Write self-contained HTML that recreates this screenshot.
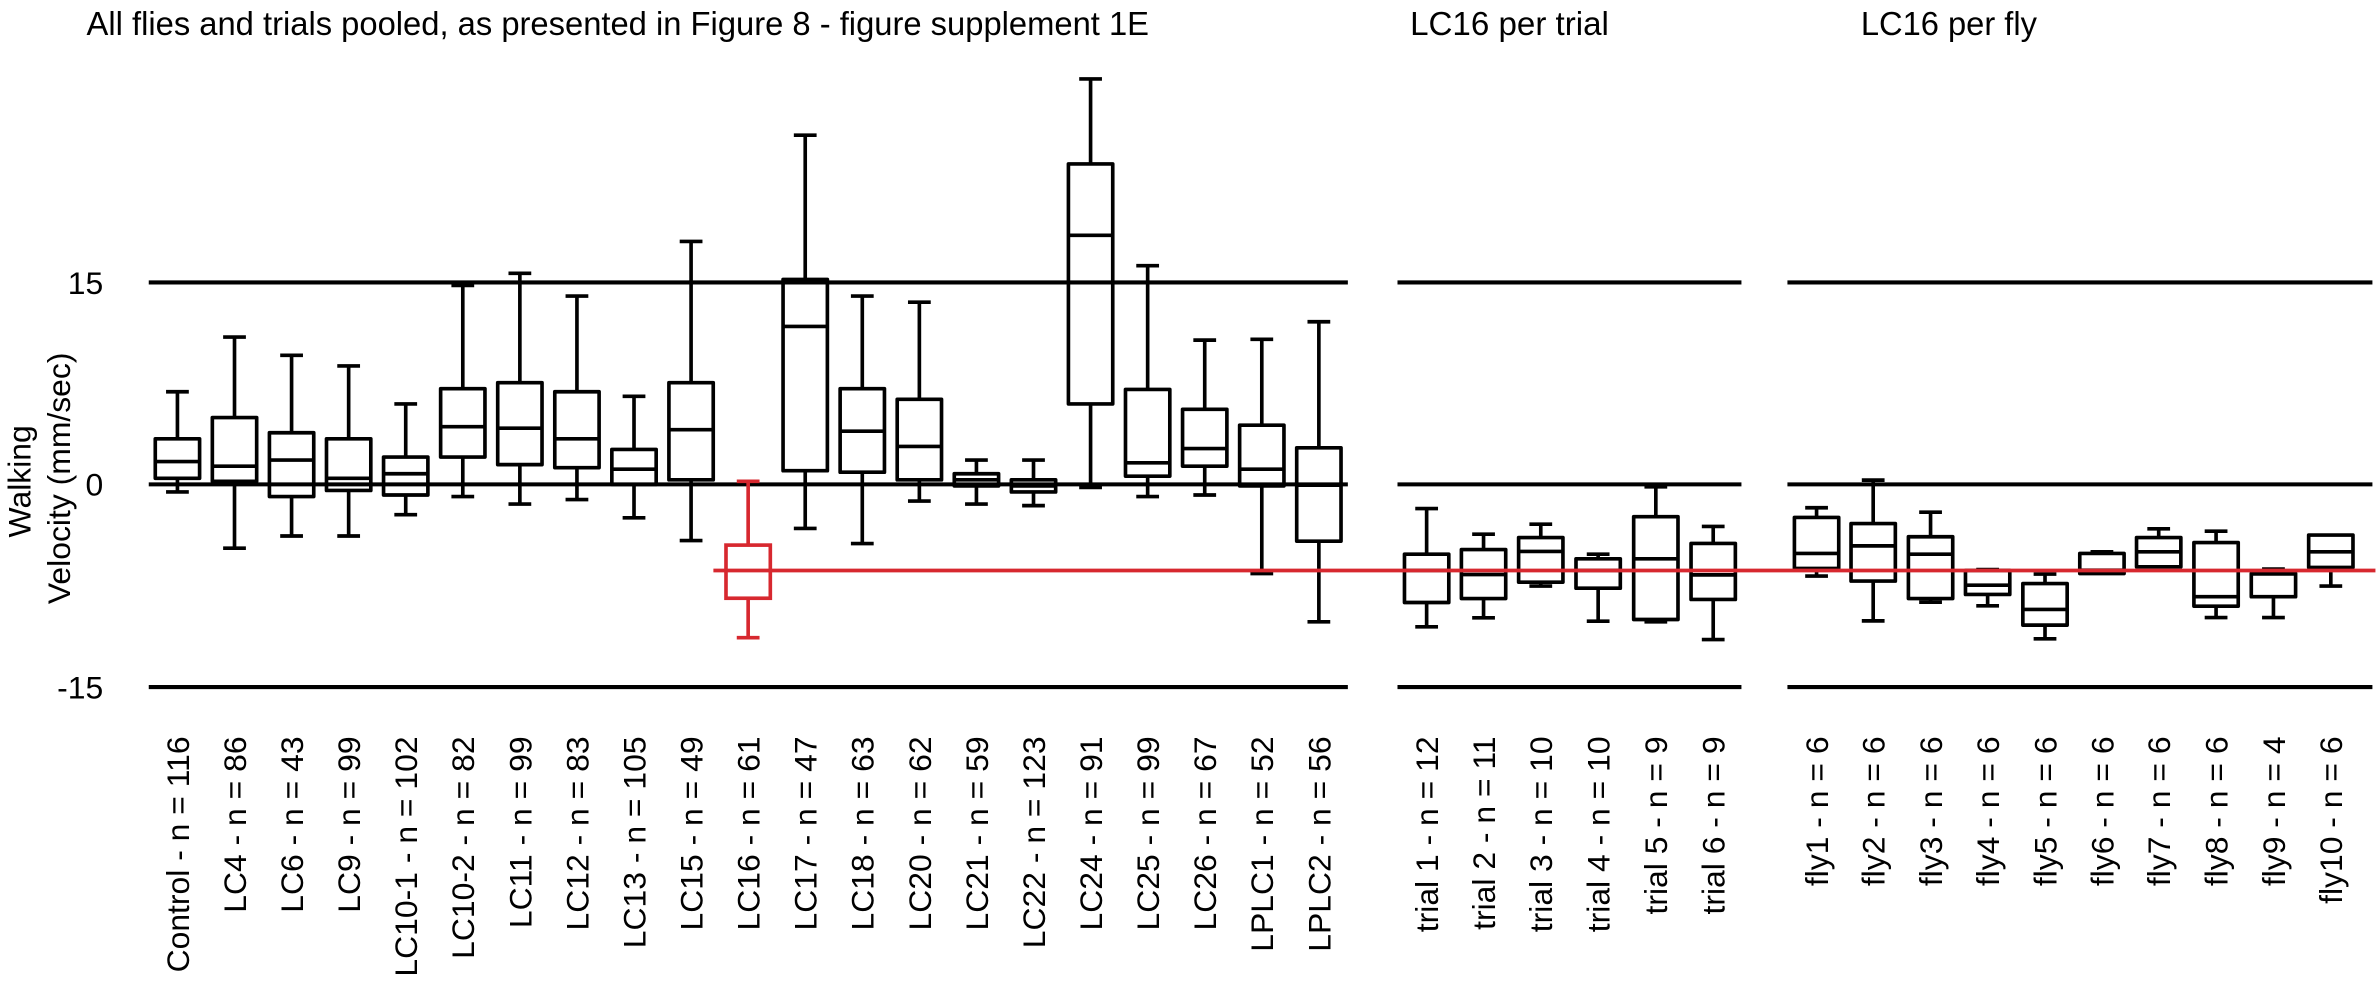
<!DOCTYPE html>
<html><head><meta charset="utf-8"><style>
html,body{margin:0;padding:0;background:#fff;}
svg{display:block;}
text{font-family:"Liberation Sans",Arial,sans-serif;fill:#000;}
</style></head><body>
<svg width="2380" height="990" viewBox="0 0 1568 652" preserveAspectRatio="none" xmlns="http://www.w3.org/2000/svg">
<rect width="1568" height="652" fill="#fff"/>
<text x="57" y="23" font-size="22" textLength="700" lengthAdjust="spacingAndGlyphs">All flies and trials pooled, as presented in Figure 8 - figure supplement 1E</text>
<text x="929" y="23" font-size="22" textLength="131" lengthAdjust="spacingAndGlyphs">LC16 per trial</text>
<text x="1226" y="23" font-size="22" textLength="116" lengthAdjust="spacingAndGlyphs">LC16 per fly</text>

<g font-size="21" text-anchor="end">
<text x="68" y="193.5">15</text>
<text x="68" y="326.5">0</text>
<text x="68" y="460">-15</text>
</g>
<g font-size="21" text-anchor="middle">
<text transform="translate(20,317) rotate(-90)">Walking</text>
<text transform="translate(46,315) rotate(-90)">Velocity (mm/sec)</text>
</g>

<g stroke="#000" stroke-width="2.7" fill="none">
<path d="M98 186H888M98 319H888M98 452.5H888"/>
<path d="M920.7 186H1147.3M920.7 319H1147.3M920.7 452.5H1147.3"/>
<path d="M1177.6 186H1563M1177.6 319H1563M1177.6 452.5H1563"/>
</g>

<g stroke="#000" stroke-width="2.4" fill="none" stroke-linejoin="round">
<path d="M109.4 258H124.4M116.9 258V289M116.9 315V324M109.4 324H124.4M102.3 304H131.5"/><rect x="102.3" y="289" width="29.2" height="26"/>
<path d="M147 222H162M154.5 222V275M154.5 317V361M147 361H162M139.9 307H169.1"/><rect x="139.9" y="275" width="29.2" height="42"/>
<path d="M184.6 234H199.6M192.1 234V285M192.1 327V353M184.6 353H199.6M177.5 303H206.7"/><rect x="177.5" y="285" width="29.2" height="42"/>
<path d="M222.2 241H237.2M229.7 241V289M229.7 323V353M222.2 353H237.2M215.1 315H244.3"/><rect x="215.1" y="289" width="29.2" height="34"/>
<path d="M259.8 266H274.8M267.3 266V301M267.3 326V339M259.8 339H274.8M252.7 312H281.9"/><rect x="252.7" y="301" width="29.2" height="25"/>
<path d="M297.4 188H312.4M304.9 188V256M304.9 301V327M297.4 327H312.4M290.3 281H319.5"/><rect x="290.3" y="256" width="29.2" height="45"/>
<path d="M335 180H350M342.5 180V252M342.5 306V332M335 332H350M327.9 282H357.1"/><rect x="327.9" y="252" width="29.2" height="54"/>
<path d="M372.6 195H387.6M380.1 195V258M380.1 308V329M372.6 329H387.6M365.5 289H394.7"/><rect x="365.5" y="258" width="29.2" height="50"/>
<path d="M410.2 261H425.2M417.7 261V296M417.7 319V341M410.2 341H425.2M403.1 309H432.3"/><rect x="403.1" y="296" width="29.2" height="23"/>
<path d="M447.8 159H462.8M455.3 159V252M455.3 316V356M447.8 356H462.8M440.7 283H469.9"/><rect x="440.7" y="252" width="29.2" height="64"/>
<path d="M523 89H538M530.5 89V184M530.5 310V348M523 348H538M515.9 215H545.1"/><rect x="515.9" y="184" width="29.2" height="126"/>
<path d="M560.6 195H575.6M568.1 195V256M568.1 311V358M560.6 358H575.6M553.5 284H582.7"/><rect x="553.5" y="256" width="29.2" height="55"/>
<path d="M598.2 199H613.2M605.7 199V263M605.7 316V330M598.2 330H613.2M591.1 294H620.3"/><rect x="591.1" y="263" width="29.2" height="53"/>
<path d="M635.8 303H650.8M643.3 303V312M643.3 320V332M635.8 332H650.8M628.7 316H657.9"/><rect x="628.7" y="312" width="29.2" height="8"/>
<path d="M673.4 303H688.4M680.9 303V316M680.9 324V333M673.4 333H688.4M666.3 320H695.5"/><rect x="666.3" y="316" width="29.2" height="8"/>
<path d="M711 52H726M718.5 52V108M718.5 266V321M711 321H726M703.9 155H733.1"/><rect x="703.9" y="108" width="29.2" height="158"/>
<path d="M748.6 175H763.6M756.1 175V256.5M756.1 313.6V327M748.6 327H763.6M741.5 304.8H770.7"/><rect x="741.5" y="256.5" width="29.2" height="57.1"/>
<path d="M786.2 224H801.2M793.7 224V269.6M793.7 307V326M786.2 326H801.2M779.1 295.4H808.3"/><rect x="779.1" y="269.6" width="29.2" height="37.4"/>
<path d="M823.8 223.5H838.8M831.3 223.5V280M831.3 320V377.7M823.8 377.7H838.8M816.7 309H845.9"/><rect x="816.7" y="280" width="29.2" height="40"/>
<path d="M861.4 211.9H876.4M868.9 211.9V294.9M868.9 356.4V409.5M861.4 409.5H876.4M854.3 319.5H883.5"/><rect x="854.3" y="294.9" width="29.2" height="61.5"/>

<path d="M932.4 334.9H947.4M939.9 334.9V365M939.9 396.8V412.8M932.4 412.8H947.4M925.3 375.7H954.5"/><rect x="925.3" y="365" width="29.2" height="31.8"/>
<path d="M969.9 351.8H984.9M977.4 351.8V361.9M977.4 394.2V406.9M969.9 406.9H984.9M962.8 378.4H992"/><rect x="962.8" y="361.9" width="29.2" height="32.3"/>
<path d="M1007.6 345.2H1022.6M1015.1 345.2V354M1015.1 383.4V386M1007.6 386H1022.6M1000.5 363.2H1029.7"/><rect x="1000.5" y="354" width="29.2" height="29.4"/>
<path d="M1045.4 365H1060.4M1052.9 365V368M1052.9 387.4V409.1M1045.4 409.1H1060.4M1038.3 375.7H1067.5"/><rect x="1038.3" y="368" width="29.2" height="19.4"/>
<path d="M1083.4 320.6H1098.4M1090.9 320.6V340.3M1090.9 408V409.5M1083.4 409.5H1098.4M1076.3 368H1105.5"/><rect x="1076.3" y="340.3" width="29.2" height="67.7"/>
<path d="M1121.2 346.7H1136.2M1128.7 346.7V357.9M1128.7 394.8V421.2M1121.2 421.2H1136.2M1114.1 378.6H1143.3"/><rect x="1114.1" y="357.9" width="29.2" height="36.9"/>

<path d="M1189.3 334.4H1204.3M1196.8 334.4V340.8M1196.8 374.4V379.4M1189.3 379.4H1204.3M1182.2 364.5H1211.4"/><rect x="1182.2" y="340.8" width="29.2" height="33.6"/>
<path d="M1226.6 316.2H1241.6M1234.1 316.2V344.8M1234.1 382.7V408.9M1226.6 408.9H1241.6M1219.5 359.5H1248.7"/><rect x="1219.5" y="344.8" width="29.2" height="37.9"/>
<path d="M1264.4 337.3H1279.4M1271.9 337.3V353.5M1271.9 394.2V396.6M1264.4 396.6H1279.4M1257.3 365H1286.5"/><rect x="1257.3" y="353.5" width="29.2" height="40.7"/>
<path d="M1302 375.1H1317M1309.5 375.1V375.7M1309.5 391.5V399M1302 399H1317M1294.9 385.4H1324.1"/><rect x="1294.9" y="375.7" width="29.2" height="15.8"/>
<path d="M1339.8 378.1H1354.8M1347.3 378.1V384.3M1347.3 411.7V420.7M1339.8 420.7H1354.8M1332.7 401.4H1361.9"/><rect x="1332.7" y="384.3" width="29.2" height="27.4"/>
<path d="M1377.3 363.4H1392.3M1370.2 375.5H1399.4"/><rect x="1370.2" y="364.5" width="29.2" height="13.2"/>
<path d="M1414.7 348.3H1429.7M1422.2 348.3V354M1407.6 363.4H1436.8"/><rect x="1407.6" y="354" width="29.2" height="19.3"/>
<path d="M1452.5 349.8H1467.5M1460 349.8V357.3M1460 399.2V406.7M1452.5 406.7H1467.5M1445.4 393H1474.6"/><rect x="1445.4" y="357.3" width="29.2" height="41.9"/>
<path d="M1490.3 374.8H1505.3M1497.8 393V406.7M1490.3 406.7H1505.3M1483.2 378H1512.4"/><rect x="1483.2" y="377.7" width="29.2" height="15.3"/>
<path d="M1528.1 386H1543.1M1535.6 373.7V386M1521 363.4H1550.2"/><rect x="1521" y="352.4" width="29.2" height="21.3"/>
</g>

<path d="M470 375.7H1565" stroke="#d7282f" stroke-width="2.5"/>
<g stroke="#d7282f" stroke-width="2.4" fill="none">
<path d="M485.4 317H500.4M492.9 317V359M492.9 394V420M485.4 420H500.4"/><rect x="478.3" y="359" width="29.2" height="35"/>
</g>

<g font-size="21" text-anchor="end">
<text transform="translate(124.4,485) rotate(-90)">Control - n = 116</text>
<text transform="translate(162,485) rotate(-90)">LC4 - n = 86</text>
<text transform="translate(199.6,485) rotate(-90)">LC6 - n = 43</text>
<text transform="translate(237.2,485) rotate(-90)">LC9 - n = 99</text>
<text transform="translate(274.8,485) rotate(-90)">LC10-1 - n = 102</text>
<text transform="translate(312.4,485) rotate(-90)">LC10-2 - n = 82</text>
<text transform="translate(350,485) rotate(-90)">LC11 - n = 99</text>
<text transform="translate(387.6,485) rotate(-90)">LC12 - n = 83</text>
<text transform="translate(425.2,485) rotate(-90)">LC13 - n = 105</text>
<text transform="translate(462.8,485) rotate(-90)">LC15 - n = 49</text>
<text transform="translate(500.4,485) rotate(-90)">LC16 - n = 61</text>
<text transform="translate(538,485) rotate(-90)">LC17 - n = 47</text>
<text transform="translate(575.6,485) rotate(-90)">LC18 - n = 63</text>
<text transform="translate(613.2,485) rotate(-90)">LC20 - n = 62</text>
<text transform="translate(650.8,485) rotate(-90)">LC21 - n = 59</text>
<text transform="translate(688.4,485) rotate(-90)">LC22 - n = 123</text>
<text transform="translate(726,485) rotate(-90)">LC24 - n = 91</text>
<text transform="translate(763.6,485) rotate(-90)">LC25 - n = 99</text>
<text transform="translate(801.2,485) rotate(-90)">LC26 - n = 67</text>
<text transform="translate(838.8,485) rotate(-90)">LPLC1 - n = 52</text>
<text transform="translate(876.4,485) rotate(-90)">LPLC2 - n = 56</text>
<text transform="translate(947.4,485) rotate(-90)">trial 1 - n = 12</text>
<text transform="translate(984.9,485) rotate(-90)">trial 2 - n = 11</text>
<text transform="translate(1022.6,485) rotate(-90)">trial 3 - n = 10</text>
<text transform="translate(1060.4,485) rotate(-90)">trial 4 - n = 10</text>
<text transform="translate(1098.4,485) rotate(-90)">trial 5 - n = 9</text>
<text transform="translate(1136.2,485) rotate(-90)">trial 6 - n = 9</text>
<text transform="translate(1204.3,485) rotate(-90)">fly1 - n = 6</text>
<text transform="translate(1241.6,485) rotate(-90)">fly2 - n = 6</text>
<text transform="translate(1279.4,485) rotate(-90)">fly3 - n = 6</text>
<text transform="translate(1317,485) rotate(-90)">fly4 - n = 6</text>
<text transform="translate(1354.8,485) rotate(-90)">fly5 - n = 6</text>
<text transform="translate(1392.3,485) rotate(-90)">fly6 - n = 6</text>
<text transform="translate(1429.7,485) rotate(-90)">fly7 - n = 6</text>
<text transform="translate(1467.5,485) rotate(-90)">fly8 - n = 6</text>
<text transform="translate(1505.3,485) rotate(-90)">fly9 - n = 4</text>
<text transform="translate(1543.1,485) rotate(-90)">fly10 - n = 6</text>
</g>
</svg>
</body></html>
